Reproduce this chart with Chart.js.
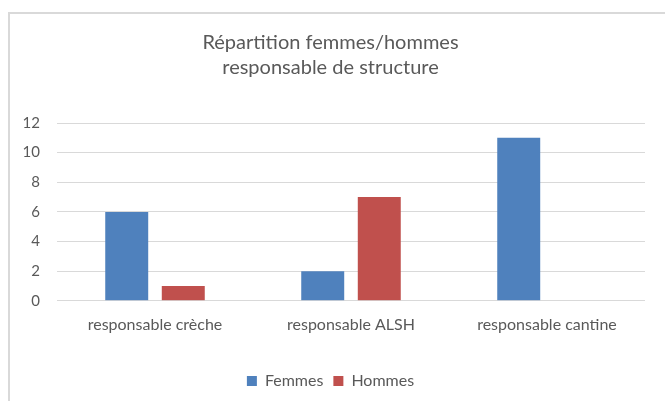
<!DOCTYPE html>
<html>
<head>
<meta charset="utf-8">
<script src="https://cdn.jsdelivr.net/npm/chart.js@4"></script>
<style>
  html, body { margin: 0; padding: 0; background: #fff; }
  #wrap { position: relative; width: 665px; height: 401px; }
  #frame {
    position: absolute; left: 8px; top: 12px; right: -2px; bottom: -2px;
    border-left: 2px solid #d9d9d9; border-top: 2px solid #d9d9d9;
  }
  canvas { position: absolute; left: 16px; top: 0; }
</style>
</head>
<body>
<div id="wrap">
  <div id="frame"></div>
  <canvas id="chart" width="649" height="401"></canvas>
</div>
<script>
const categories = ["responsable crèche", "responsable ALSH", "responsable cantine"];
const femmes = [6, 2, 11];
const hommes = [1, 7, 0];
const yTicks = [0, 2, 4, 6, 8, 10, 12];

const grey = "#595959";
const font = "Lato";

const ctx = document.getElementById("chart");

const chart = new Chart(ctx, {
  type: "bar",
  data: {
    labels: categories,
    datasets: [
      {
        label: "Femmes",
        data: femmes,
        backgroundColor: "#4f81bd",
        categoryPercentage: 0.577,
        barPercentage: 0.76,
      },
      {
        label: "Hommes",
        data: hommes,
        backgroundColor: "#c0504d",
        categoryPercentage: 0.577,
        barPercentage: 0.76,
      },
    ],
  },
  options: {
    responsive: false,
    animation: false,
    layout: {
      padding: { left: 0, right: 20, top: 0, bottom: 2 },
    },
    plugins: {
      title: {
        display: true,
        text: ["Répartition femmes/hommes", "responsable de structure"],
        color: grey,
        font: { family: font, size: 20, weight: "normal", lineHeight: 1.25 },
        padding: { top: 30, bottom: 43 },
      },
      legend: {
        position: "bottom",
        labels: {
          color: grey,
          boxWidth: 10,
          boxHeight: 10,
          padding: 10,
          font: { family: font, size: 16 },
        },
      },
      tooltip: { enabled: false },
    },
    scales: {
      x: {
        grid: { display: false },
        border: { display: false },
        // blank title only used as spacer between labels and legend
        title: {
          display: true,
          text: " ",
          font: { size: 10, lineHeight: 1 },
          padding: { top: 0, bottom: 13 },
        },
        ticks: {
          color: grey,
          padding: 6,
          font: { family: font, size: 16 },
        },
      },
      y: {
        min: 0,
        max: 12,
        afterBuildTicks: (axis) => {
          axis.ticks = yTicks.map((v) => ({ value: v }));
        },
        afterFit: (axis) => {
          axis.width = 41;
        },
        grid: { color: "#d9d9d9", drawTicks: false },
        border: { display: false },
        ticks: {
          color: grey,
          padding: 17,
          font: { family: font, size: 15 },
        },
      },
    },
  },
});
</script>
</body>
</html>
